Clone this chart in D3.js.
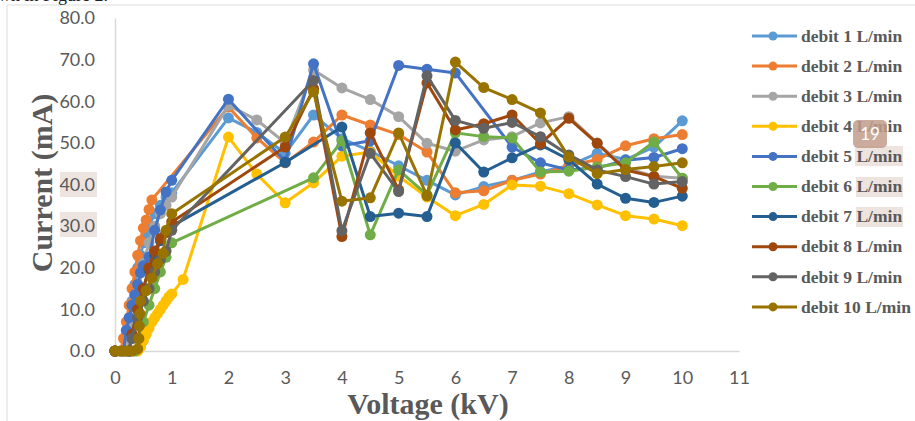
<!DOCTYPE html>
<html>
<head>
<meta charset="utf-8">
<script src="https://cdn.jsdelivr.net/npm/d3@7"></script>
<style>
  body { margin: 0; background: #ffffff; }
  svg { display: block; }
</style>
</head>
<body>
<div id="chart"></div>
<script>
// Data: [voltage kV, current mA]
const seriesNames = [
  "debit 1 L/min", "debit 2 L/min", "debit 3 L/min", "debit 4 L/min", "debit 5 L/min",
  "debit 6 L/min", "debit 7 L/min", "debit 8 L/min", "debit 9 L/min", "debit 10 L/min"
];
const seriesColors = [
  "#5B9BD5", "#ED7D31", "#A5A5A5", "#FFC000", "#4472C4",
  "#70AD47", "#255E91", "#9E480E", "#636363", "#997300"
];

const debit1 = [[0,0],[0.1,0],[0.15,0],[0.2,4],[0.25,8],[0.3,12],[0.35,16],[0.4,20],[0.45,23],[0.5,26],[0.55,28],[0.6,30],[0.7,33],[0.8,35],[0.9,37],[1,38],[2,56],[2.5,52.5],[3,47.5],[3.5,56.7],[4,51],[4.5,48],[5,44.5],[5.5,41],[6,37.5],[6.5,39.5],[7,41],[7.5,43],[8,44.5],[8.5,47.5],[9,46],[9.5,49],[10,55.3]];
const debit2 = [[0,0],[0.1,0],[0.15,3],[0.2,7],[0.25,11],[0.3,15],[0.35,19],[0.4,23],[0.45,26.5],[0.5,29.5],[0.55,31.5],[0.6,34],[0.65,36.3],[2,58.6],[2.5,51.2],[3,45.2],[3.5,50.2],[4,56.7],[4.5,54.3],[5,52],[5.5,47.8],[6,38],[6.5,38.5],[7,41],[7.5,42.5],[8,44.5],[8.5,46],[9,49.3],[9.5,51],[10,52]];
const debit3 = [[0,0],[0.2,0],[0.25,3],[0.3,7],[0.4,14],[0.5,21],[0.6,26],[0.7,30],[0.8,33],[0.9,35],[1,37],[2,59],[2.5,55.5],[3,50],[3.5,67.5],[4,63.2],[4.5,60.4],[5,56.3],[5.5,49.9],[6,48],[6.5,50.7],[7,51.5],[7.5,54.8],[8,56.3],[8.5,50],[9,44],[9.5,42],[10,41.5]];
const debit4 = [[0,0],[0.2,0],[0.4,0],[0.45,1],[0.5,2.5],[0.55,4],[0.6,5.5],[0.65,7],[0.7,8],[0.75,9],[0.8,10],[0.85,11],[0.9,12],[0.95,13],[1,13.7],[1.2,17.2],[2,51.4],[2.5,42.5],[3,35.6],[3.5,40.4],[4,46.8],[4.5,47.8],[5,42],[5.5,37],[6,32.5],[6.5,35.2],[7,39.9],[7.5,39.6],[8,37.8],[8.5,35.1],[9,32.5],[9.5,31.7],[10,30.1]];
const debit5 = [[0,0],[0.15,0],[0.2,5],[0.25,8],[0.3,11],[0.35,13.5],[0.4,16],[0.45,18.8],[0.5,20.5],[0.6,22.6],[0.7,29],[0.8,33.9],[0.9,38.2],[1,41],[2,60.5],[3,45.5],[3.5,69],[4,49.3],[4.5,50.5],[5,68.6],[5.5,67.7],[6,66.8],[7,49],[7.5,45.2],[8,43.5],[8.5,44],[9,45.8],[9.5,46.5],[10,48.6]];
const debit6 = [[0,0],[0.35,0],[0.4,3],[0.5,7],[0.6,11],[0.7,15],[0.8,19],[0.9,22.5],[1,26],[3.5,41.6],[4,50.5],[4.5,27.9],[5,43.5],[5.5,37.5],[6,52.4],[6.5,51.5],[7,51.2],[7.5,43],[8,43.2],[8.5,44.2],[9,45.2],[9.5,50.2],[10,41.5]];
const debit7 = [[0,0],[0.25,0],[0.3,4],[0.4,10],[0.5,15],[0.6,19.5],[0.7,23],[0.8,26.5],[0.9,28.5],[1,30],[3,45.3],[4,53.8],[4.5,32.3],[5,33.1],[5.5,32.3],[6,50],[6.5,43],[7,46.4],[7.5,49.5],[8,46],[8.5,40.1],[9,36.7],[9.5,35.7],[10,37.2]];
const debit8 = [[0,0],[0.25,0],[0.3,4],[0.4,10],[0.5,15],[0.6,20],[0.7,24],[0.8,27],[0.9,28.5],[1,31],[3,49],[3.5,63],[4,27.5],[4.5,52.4],[5,38.7],[5.5,64.4],[6,53.1],[6.5,54.6],[7,56.7],[7.5,49.8],[8,55.9],[8.5,49.9],[9,43.5],[9.5,41.9],[10,39.1]];
const debit9 = [[0,0],[0.25,0],[0.3,3],[0.4,8],[0.5,12],[0.6,15],[0.7,19],[0.8,22],[0.9,24],[1,29],[3.5,65],[4,28.9],[4.5,47.5],[5,38.3],[5.5,66.1],[6,55.4],[6.5,53.5],[7,54.9],[7.5,51.5],[8,47.1],[8.5,43.5],[9,41.9],[9.5,40.1],[10,40.7]];
const debit10 = [[0,0],[0.1,0],[0.2,0],[0.3,0],[0.4,0.5],[0.42,3],[0.43,6],[0.44,9],[0.45,12],[0.55,14.5],[0.65,17.5],[0.75,21],[0.85,23.5],[0.9,29],[1,33],[3,51.4],[3.5,62.3],[4,36],[4.5,36.8],[5,52.4],[5.5,37.3],[6,69.4],[6.5,63.3],[7,60.4],[7.5,57.2],[8,46.6],[8.5,42.6],[9,43.6],[9.5,44.3],[10,45.2]];

const allSeries = [debit1, debit2, debit3, debit4, debit5, debit6, debit7, debit8, debit9, debit10];

const xTicks = [0, 1, 2, 3, 4, 5, 6, 7, 8, 9, 10, 11];
const yTicks = [0, 10, 20, 30, 40, 50, 60, 70, 80];

// Set the dimensions and margins of the graph
let margin = { top: 18, left: 115 },
  width = 624,
  height = 333;

let svg = d3
  .select("#chart")
  .append("svg")
  .attr("width", 915)
  .attr("height", 421);

// page frame leftovers
svg.append("line").attr("x1", 7).attr("x2", 915).attr("y1", 5).attr("y2", 5)
  .attr("stroke", "#e8e8e8").attr("stroke-width", 1.5);
svg.append("line").attr("x1", 7).attr("x2", 7).attr("y1", 5).attr("y2", 421)
  .attr("stroke", "#e8e8e8").attr("stroke-width", 1.5);
svg.append("text").attr("x", -2).attr("y", 1)
  .style("font-family", "Liberation Serif").style("font-size", "18px")
  .attr("fill", "#222").text("wn in Figure 2.");

// highlight marks on some labels (as in the source image)
const hl = [[60, 172, 37, 25], [60, 212, 37, 25], [855, 146, 48, 20], [856, 177, 47, 20], [856, 207, 47, 20]];
svg.selectAll(".hl").data(hl).enter().append("rect")
  .attr("class", "hl")
  .attr("x", (d) => d[0]).attr("y", (d) => d[1])
  .attr("width", (d) => d[2]).attr("height", (d) => d[3])
  .attr("fill", "#ede4df");

let g = svg.append("g")
  .attr("transform", "translate(" + margin.left + "," + margin.top + ")");

let x = d3.scaleLinear().domain([0, 11]).range([0, width]);
let y = d3.scaleLinear().domain([0, 80]).range([height, 0]);

const xAxis = g.append("g")
  .attr("transform", "translate(0," + height + ")")
  .call(d3.axisBottom(x).tickValues(xTicks).tickSize(0).tickPadding(20));

const yAxis = g.append("g")
  .call(d3.axisLeft(y).tickValues(yTicks).tickSize(0).tickPadding(20).tickFormat(d3.format(".1f")));

[xAxis, yAxis].forEach((a) => {
  a.select(".domain").attr("stroke", "#d9d9d9").attr("stroke-width", 1.5);
  a.selectAll("text")
    .style("font-family", "Lato, 'Open Sans', sans-serif")
    .style("font-size", "18px")
    .attr("fill", "#595959");
});

// Axis titles
svg.append("text")
  .attr("x", 428).attr("y", 414)
  .attr("text-anchor", "middle")
  .style("font-family", "Liberation Serif").style("font-weight", "bold")
  .style("font-size", "30px").attr("fill", "#595959")
  .text("Voltage (kV)");

svg.append("text")
  .attr("transform", "translate(52,183) rotate(-90)")
  .attr("text-anchor", "middle")
  .style("font-family", "Liberation Serif").style("font-weight", "bold")
  .style("font-size", "30px").attr("fill", "#595959")
  .text("Current (mA)");

const line = d3.line().x((d) => x(d[0])).y((d) => y(d[1]));

allSeries.forEach((data, i) => {
  const s = g.append("g").attr("class", "series");
  s.append("path")
    .datum(data)
    .attr("fill", "none")
    .attr("stroke", seriesColors[i])
    .attr("stroke-width", 3)
    .attr("stroke-linejoin", "round")
    .attr("d", line);
  s.selectAll("circle")
    .data(data)
    .enter()
    .append("circle")
    .attr("cx", (d) => x(d[0]))
    .attr("cy", (d) => y(d[1]))
    .attr("r", 5.5)
    .attr("fill", seriesColors[i]);
});

// Legend
const legend = svg.append("g").attr("transform", "translate(752,36)");
const legendItem = legend
  .selectAll(".legend-item")
  .data(seriesNames)
  .enter()
  .append("g")
  .attr("class", "legend-item")
  .attr("transform", (d, i) => `translate(0, ${i * 30.1})`);

legendItem.append("line")
  .attr("x1", 0).attr("x2", 45)
  .attr("stroke", (d, i) => seriesColors[i])
  .attr("stroke-width", 3);
legendItem.append("circle")
  .attr("cx", 21).attr("r", 4.5)
  .attr("fill", (d, i) => seriesColors[i]);
legendItem.append("text")
  .attr("x", 49).attr("dy", "0.33em")
  .style("font-family", "Liberation Serif").style("font-weight", "bold")
  .style("font-size", "17.5px").attr("fill", "#595959")
  .text((d) => d);

// page-number badge overlay
svg.append("rect").attr("x", 853).attr("y", 120).attr("width", 34).attr("height", 28)
  .attr("rx", 5).attr("fill", "#c19c8b").attr("opacity", 0.85);
svg.append("text").attr("x", 870).attr("y", 140).attr("text-anchor", "middle")
  .style("font-family", "Lato, sans-serif").style("font-size", "17px")
  .attr("fill", "#ffffff").text("19");
</script>
</body>
</html>
